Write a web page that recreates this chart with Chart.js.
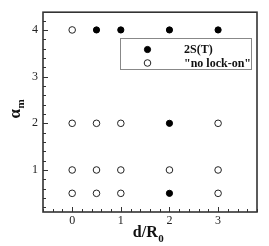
<!DOCTYPE html>
<html>
<head>
<meta charset="utf-8">
<script src="https://cdn.jsdelivr.net/npm/chart.js@4/dist/chart.umd.min.js"></script>
<style>
html,body{margin:0;padding:0;background:#fff;}
#wrap{width:269px;height:246px;}
</style>
</head>
<body>
<div id="wrap"><canvas id="c" width="269" height="246"></canvas></div>
<script>
// ---- data ----
const seriesNames = ['2S(T)', '"no lock-on"'];
const lockX = [0.5, 1, 2, 3, 2, 2];
const lockY = [4, 4, 4, 4, 2, 0.5];
const noLockX = [0, 0, 0.5, 1, 3, 0, 0.5, 1, 2, 3, 0, 0.5, 1, 3];
const noLockY = [4, 2, 2, 2, 2, 1, 1, 1, 1, 1, 0.5, 0.5, 0.5, 0.5];
const xTickLabels = [0, 1, 2, 3];
const yTickLabels = [1, 2, 3, 4];
const xRange = [-0.6, 3.8];
const yRange = [0.1, 4.38];
const minorStep = 0.2;

const toPts = (xs, ys) => xs.map((x, i) => ({x: x, y: ys[i]}));

function buildTicks(min, max, step) {
  const out = [];
  let k = Math.ceil(min / step - 1e-9);
  for (; k * step <= max + 1e-9; k++) out.push({value: Math.round(k * step * 1000) / 1000});
  return out;
}

const FRAME = '#333';
const framePlugin = {
  id: 'frame',
  beforeDatasetsDraw(chart) {
    const {ctx, chartArea: a, scales} = chart;
    ctx.save();
    ctx.strokeStyle = FRAME;
    ctx.lineWidth = 1;
    scales.x.ticks.forEach(t => {
      const px = Math.round(scales.x.getPixelForValue(t.value)) + 0.5;
      const major = xTickLabels.includes(t.value);
      const len = major ? 5 : 3;
      ctx.beginPath();
      ctx.moveTo(px, a.bottom); ctx.lineTo(px, a.bottom - len);
      ctx.stroke();
    });
    scales.y.ticks.forEach(t => {
      const py = Math.round(scales.y.getPixelForValue(t.value)) + 0.5;
      const major = yTickLabels.includes(t.value);
      const len = major ? 5 : 3;
      ctx.beginPath();
      ctx.moveTo(a.left, py); ctx.lineTo(a.left + len, py);
      ctx.stroke();
    });
    ctx.lineWidth = 1.6;
    ctx.strokeRect(a.left, a.top, a.right - a.left, a.bottom - a.top);
    ctx.restore();
  },
  afterDraw(chart) {
    const {ctx, chartArea: a} = chart;
    ctx.save();
    ctx.fillStyle = '#111';
    ctx.font = 'bold 16px "Liberation Serif"';
    const main = 'd/R', sub = '0';
    const wMain = ctx.measureText(main).width;
    ctx.font = 'bold 11px "Liberation Serif"';
    const wSub = ctx.measureText(sub).width;
    const cx = (a.left + a.right) / 2 - 2;
    const x0 = cx - (wMain + wSub) / 2;
    ctx.textBaseline = 'alphabetic';
    ctx.textAlign = 'left';
    ctx.font = 'bold 16px "Liberation Serif"';
    ctx.fillText(main, x0, 237);
    ctx.font = 'bold 11px "Liberation Serif"';
    ctx.fillText(sub, x0 + wMain + 0.5, 242);
    ctx.translate(20, (a.top + a.bottom) / 2 - 3);
    ctx.rotate(-Math.PI / 2);
    ctx.font = 'bold 17px "Liberation Serif"';
    const ma = 'α';
    const wa = ctx.measureText(ma).width;
    ctx.font = 'bold 11px "Liberation Serif"';
    const wm = ctx.measureText('m').width;
    const sx = -(wa + wm) / 2;
    ctx.font = 'bold 17px "Liberation Serif"';
    ctx.fillText(ma, sx, 0);
    ctx.font = 'bold 11px "Liberation Serif"';
    ctx.fillText('m', sx + wa + 0.5, 4);
    ctx.restore();

    const lx = 120, ly = 38.5, lw = 131, lh = 31;
    ctx.save();
    ctx.fillStyle = '#fff';
    ctx.fillRect(lx, ly, lw, lh);
    ctx.strokeStyle = '#888';
    ctx.lineWidth = 1;
    ctx.strokeRect(lx + 0.5, ly, lw, lh);
    chart.data.datasets.forEach((ds, i) => {
      const my = ly + 11 + i * 13.5;
      ctx.beginPath();
      ctx.arc(147.5, my, ds.pointRadius, 0, Math.PI * 2);
      ctx.fillStyle = ds.backgroundColor;
      ctx.fill();
      ctx.strokeStyle = ds.borderColor;
      ctx.lineWidth = ds.borderWidth;
      ctx.stroke();
      ctx.fillStyle = '#111';
      ctx.font = 'bold 12px "Liberation Serif"';
      ctx.textBaseline = 'middle';
      ctx.textAlign = 'left';
      ctx.fillText(ds.label, 184, my + 0.5);
    });
    ctx.restore();
  }
};

new Chart(document.getElementById('c'), {
  type: 'scatter',
  data: {
    datasets: [
      {label: seriesNames[0], data: toPts(lockX, lockY), pointRadius: 3.1, pointHoverRadius: 3.1,
       backgroundColor: '#000', borderColor: '#000', borderWidth: 1},
      {label: seriesNames[1], data: toPts(noLockX, noLockY), pointRadius: 3.3, pointHoverRadius: 3.3,
       backgroundColor: '#fff', borderColor: '#222', borderWidth: 1}
    ]
  },
  options: {
    responsive: false,
    animation: false,
    events: [],
    layout: {padding: {top: 12, right: 12, left: 0, bottom: 0}},
    plugins: {legend: {display: false}, tooltip: {enabled: false}},
    scales: {
      x: {
        type: 'linear', min: xRange[0], max: xRange[1],
        afterBuildTicks: s => { s.ticks = buildTicks(xRange[0], xRange[1], minorStep); },
        afterFit: s => { s.height = 34; },
        grid: {display: false, drawTicks: false},
        border: {display: false},
        ticks: {
          autoSkip: false, maxRotation: 0, padding: 2, color: '#222',
          font: {family: 'Liberation Serif', size: 12},
          callback: v => xTickLabels.includes(Math.round(v * 1000) / 1000) ? String(Math.round(v)) : ''
        }
      },
      y: {
        type: 'linear', min: yRange[0], max: yRange[1],
        afterBuildTicks: s => { s.ticks = buildTicks(yRange[0], yRange[1], minorStep); },
        afterFit: s => { s.width = 43; },
        grid: {display: false, drawTicks: false},
        border: {display: false},
        ticks: {
          autoSkip: false, padding: 5, color: '#222',
          font: {family: 'Liberation Serif', size: 12},
          callback: v => yTickLabels.includes(Math.round(v * 1000) / 1000) ? String(Math.round(v)) : ''
        }
      }
    }
  },
  plugins: [framePlugin]
});
</script>
</body>
</html>
